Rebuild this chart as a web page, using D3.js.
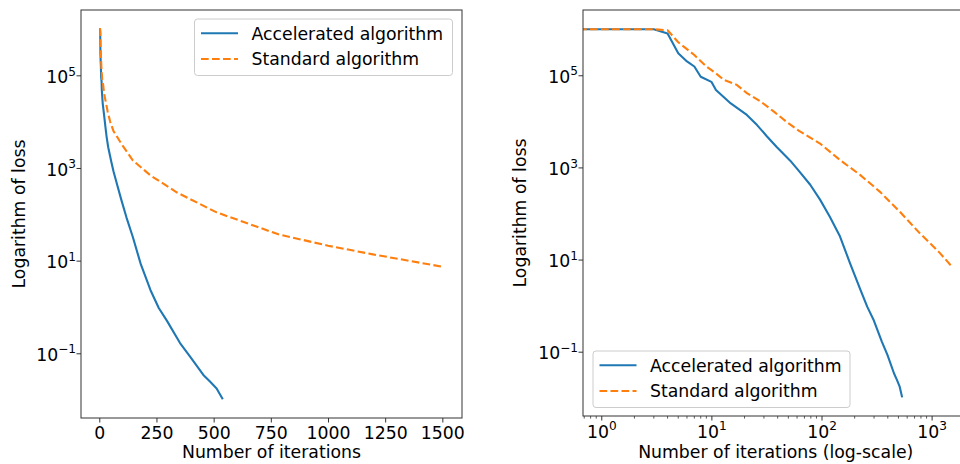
<!DOCTYPE html>
<html>
<head>
<meta charset="utf-8">
<script src="https://cdn.jsdelivr.net/npm/d3@7"></script>
<style>
  body { margin: 0; background: #fff; }
  svg { display: block; font-family: "DejaVu Sans", sans-serif; }
</style>
</head>
<body>
<svg width="960" height="464"></svg>
<script>
// iterations and loss
let accIter = [0, 1, 2, 3, 4, 5, 6, 7, 8, 10, 11, 15, 21, 26, 32, 39, 52, 62, 79, 97, 119, 147, 181, 224, 260, 296, 353, 397, 455, 484, 513, 540];
let accLoss = [1e6, 1e6, 1e6, 1e6, 8.1e5, 3.0e5, 2.0e5, 1.55e5, 9.3e4, 7.2e4, 4.8e4, 2.45e4, 1.38e4, 8.3e3, 4.7e3, 2.8e3, 1.4e3, 850, 420, 200, 85, 32, 8.5, 2.3, 0.95, 0.5, 0.166, 0.085, 0.034, 0.0245, 0.0174, 0.0102];

let stdIter = [0, 1, 2, 3, 4, 5, 6, 7, 9, 11, 13, 17, 21, 28, 37, 48, 62, 97, 147, 224, 340, 513, 783, 1000, 1191, 1500];
let stdLoss = [1e6, 1e6, 1e6, 1e6, 9.5e5, 5.2e5, 3.7e5, 2.75e5, 1.55e5, 1.1e5, 7.9e4, 6.2e4, 4.1e4, 2.7e4, 1.62e4, 9.8e3, 6.3e3, 3.3e3, 1.45e3, 690, 295, 110, 37, 21, 13.8, 7.4];

let linTicks = [0, 250, 500, 750, 1000, 1250, 1500];
let logXTicks = [1, 10, 100, 1000];
let yTicks = [1e5, 1e3, 1e1, 1e-1];
let seriesNames = ["Accelerated algorithm", "Standard algorithm"];

let blue = "#1f77b4";
let orange = "#ff7f0e";
let fontSize = 17.3;

let acc = accIter.map((d, i) => ({x: d, y: accLoss[i]}));
let std = stdIter.map((d, i) => ({x: d, y: stdLoss[i]}));

let svg = d3.select("svg");

function supLabel(sel) {
    sel.each(function(d) {
        let e = Math.round(Math.log10(d));
        let t = d3.select(this).text(null);
        t.append("tspan").text("10");
        t.append("tspan")
          .attr("dy", -7.5)
          .attr("font-size", fontSize * 0.7)
          .text(e < 0 ? "\u2212" + (-e) : e);
    });
}

function panel(opts) {
    let g = svg.append("g");
    let x = opts.x, y = opts.y;
    let [x0, x1] = x.range();
    let [y1, y0] = y.range();

    let clipId = "clip" + opts.id;
    svg.append("clipPath").attr("id", clipId)
      .append("rect")
        .attr("x", x0).attr("y", y0)
        .attr("width", x1 - x0).attr("height", y1 - y0);

    // y axis
    let yAxis = d3.axisLeft(y).tickValues(yTicks).tickSize(4.5).tickPadding(0.5);
    let ya = g.append("g")
        .attr("transform", "translate(" + x0 + ",0)")
        .call(yAxis);
    ya.select(".domain").remove();
    ya.selectAll("line").attr("stroke", "#333");
    ya.selectAll("text")
      .attr("font-size", fontSize).attr("fill", "#000")
      .attr("font-family", "DejaVu Sans")
      .attr("dy", 7.2)
      .call(supLabel);

    // x axis
    let xAxis = opts.log
        ? d3.axisBottom(x).tickValues(logXTicks).tickSize(4.5).tickPadding(4)
        : d3.axisBottom(x).tickValues(linTicks).tickFormat(d3.format("d")).tickSize(4.5).tickPadding(4);
    let xa = g.append("g")
        .attr("transform", "translate(0," + y1 + ")")
        .call(xAxis);
    xa.select(".domain").remove();
    xa.selectAll("line").attr("stroke", "#333");
    xa.selectAll("text")
      .attr("font-size", fontSize).attr("fill", "#000")
      .attr("font-family", "DejaVu Sans")
      .attr("dy", 12.6);
    if (opts.log) {
        xa.selectAll("text").attr("dy", 13).call(supLabel);
        let minor = [];
        for (let k = -1; k <= 3; k++) {
            for (let m = 2; m <= 9; m++) {
                let v = m * Math.pow(10, k);
                if (v >= x.domain()[0] && v <= x.domain()[1]) minor.push(v);
            }
        }
        g.append("g").selectAll("line")
          .data(minor)
          .enter()
          .append("line")
            .attr("x1", d => x(d)).attr("x2", d => x(d))
            .attr("y1", y1).attr("y2", y1 + 2.6)
            .attr("stroke", "#333").attr("stroke-width", 0.8);
    }

    // lines
    let xv = d => opts.log ? x(Math.max(d.x, 0.05)) : x(d.x);
    let line = d3.line().x(xv).y(d => y(d.y));
    let lg = g.append("g").attr("clip-path", "url(#" + clipId + ")");
    lg.append("path").datum(acc)
      .attr("d", line).attr("fill", "none")
      .attr("stroke", blue).attr("stroke-width", 2.1)
      .attr("stroke-linejoin", "round");
    lg.append("path").datum(std)
      .attr("d", line).attr("fill", "none")
      .attr("stroke", orange).attr("stroke-width", 2.1)
      .attr("stroke-dasharray", "7.7,3.3");

    // frame
    g.append("rect")
      .attr("x", x0).attr("y", y0)
      .attr("width", x1 - x0).attr("height", y1 - y0)
      .attr("fill", "none").attr("stroke", "#333").attr("stroke-width", 1);

    // axis titles
    g.append("text")
      .attr("x", (x0 + x1) / 2)
      .attr("y", 457.8)
      .attr("text-anchor", "middle")
      .attr("font-size", fontSize)
      .text(opts.xLabel);

    g.append("text")
      .attr("transform", "rotate(-90)")
      .attr("x", -(y0 + y1) / 2)
      .attr("y", opts.yLabelX)
      .attr("text-anchor", "middle")
      .attr("font-size", fontSize)
      .text("Logarithm of loss");

    // legend
    let lgd = g.append("g").attr("transform", "translate(" + opts.legend[0] + "," + opts.legend[1] + ")");
    lgd.append("rect")
      .attr("width", opts.legend[2]).attr("height", 56.5)
      .attr("rx", 3)
      .attr("fill", "#fff").attr("fill-opacity", 0.8)
      .attr("stroke", "#ccc").attr("stroke-width", 1);
    seriesNames.forEach((name, i) => {
        let yy = 14.3 + i * 25.7;
        lgd.append("line")
          .attr("x1", 6.5).attr("x2", 43.5)
          .attr("y1", yy).attr("y2", yy)
          .attr("stroke", i == 0 ? blue : orange)
          .attr("stroke-width", 2.1)
          .attr("stroke-dasharray", i == 0 ? null : "7.7,3.3");
        lgd.append("text")
          .attr("x", 57).attr("y", yy + 6.2)
          .attr("font-size", fontSize)
          .text(name);
    });
}

let yLeft = d3.scaleLog()
              .domain([Math.pow(10, -2.397), Math.pow(10, 6.41)])
              .range([418, 10]);
let xLeft = d3.scaleLinear()
              .domain([-80, 1586])
              .range([81, 462]);

let yRight = d3.scaleLog()
               .domain([Math.pow(10, -2.396), Math.pow(10, 6.417)])
               .range([416, 10]);
let xRight = d3.scaleLog()
               .domain([Math.pow(10, -0.166), Math.pow(10, 3.335)])
               .range([583, 968.5]);

panel({id: "L", x: xLeft, y: yLeft, log: false,
       xLabel: "Number of iterations", yLabelX: 24.5,
       legend: [194.5, 19, 258]});
panel({id: "R", x: xRight, y: yRight, log: true,
       xLabel: "Number of iterations (log-scale)", yLabelX: 525.5,
       legend: [593, 351, 257]});
</script>
</body>
</html>
